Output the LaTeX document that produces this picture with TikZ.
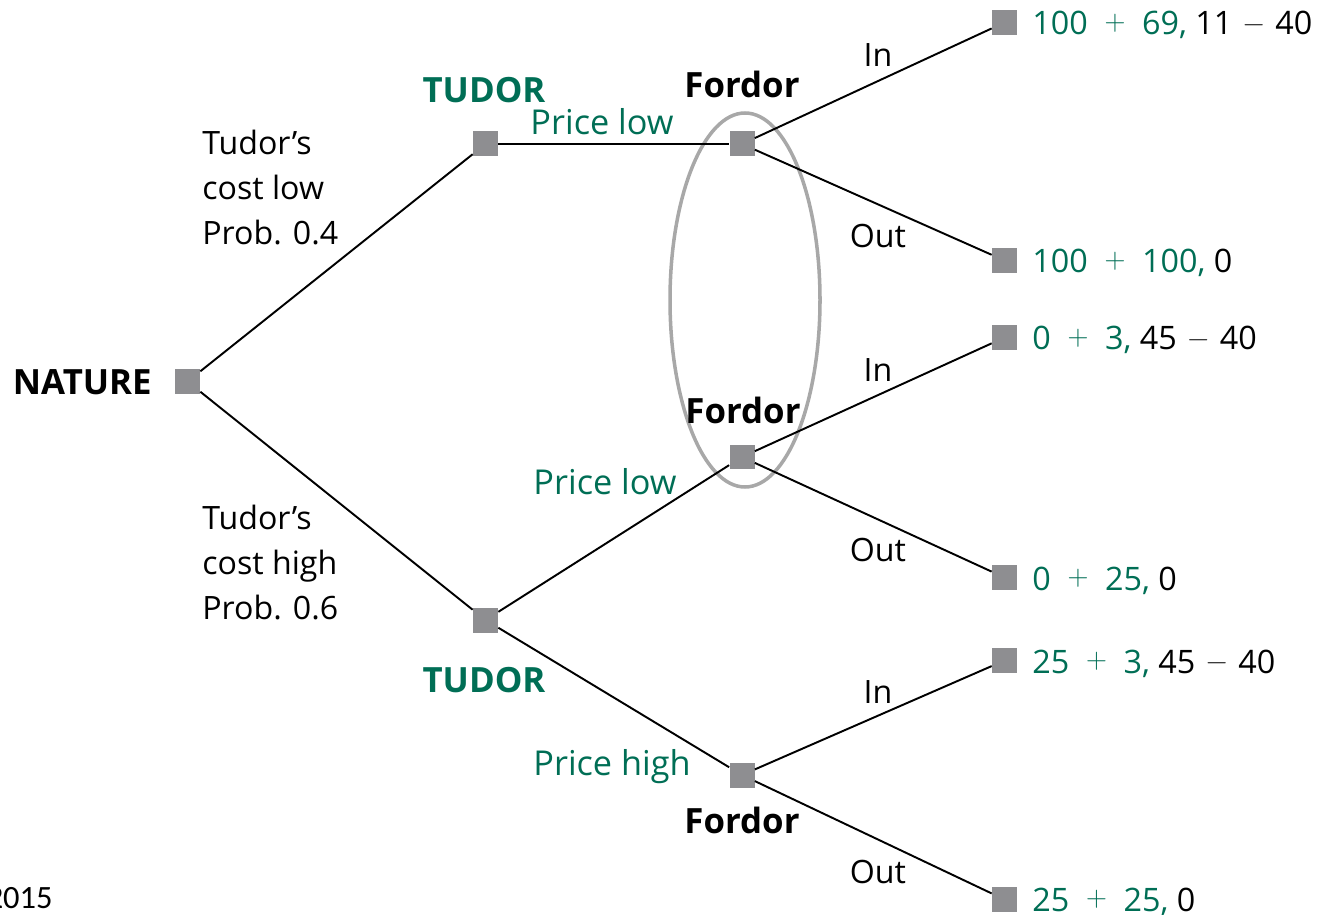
\documentclass[tikz,border=0pt]{standalone}
\usepackage{fontspec}
\setmainfont{Open Sans}
\newfontfamily\yearfont{Carlito}
\newfontfamily\lmfont{Latin Modern Roman}
\definecolor{tgreen}{RGB}{0,110,85}
\definecolor{sqgray}{RGB}{142,142,145}
\definecolor{ellgray}{RGB}{168,168,168}
\newcommand{\gplus}{\hspace{9.5pt}\raisebox{2.6pt}{\lmfont\fontsize{16.5}{17}\selectfont +}\hspace{9.5pt}}
\newcommand{\gminus}{\hspace{6.3pt}\raisebox{1.6pt}{\lmfont\fontsize{16.5}{17}\selectfont −}\hspace{6.3pt}}
\begin{document}
\begin{tikzpicture}[x=0.02cm,y=-0.02cm,
  sq/.style={draw=none,fill=sqgray,minimum size=0.5cm,inner sep=0pt},
  edge/.style={line width=1.1pt,black},
  txt/.style={font=\fontsize{18.3}{22}\selectfont,inner sep=0pt,anchor=base},
  bold/.style={txt,font=\fontsize{19.8}{24}\selectfont\bfseries},
  gtxt/.style={txt,text=tgreen,font=\fontsize{19.5}{23}\selectfont},
  ltxt/.style={txt,anchor=base west},
  pay/.style={txt,anchor=base west,font=\fontsize{18.4}{22}\selectfont}
]
\useasboundingbox (0,0) rectangle (1325,915);
% nodes
\node[sq] (N) at (187.5,381.5) {};
\node[sq] (T1) at (485.5,144) {};
\node[sq] (T2) at (485.5,620) {};
\node[sq] (F1) at (742,144) {};
\node[sq] (F2) at (742,457) {};
\node[sq] (F3) at (742,775) {};
\node[sq] (P1) at (1004.5,22.5) {};
\node[sq] (P2) at (1004.5,260.5) {};
\node[sq] (P3) at (1004.5,337.5) {};
\node[sq] (P4) at (1004.5,577.5) {};
\node[sq] (P5) at (1004.5,660.5) {};
\node[sq] (P6) at (1004.5,899.5) {};
% information set
\draw[ellgray,line width=2pt] (745,300) ellipse [x radius=75, y radius=187];
% edges
\draw[edge] (N) -- (T1);
\draw[edge] (N) -- (T2);
\draw[edge] (T1) -- (F1);
\draw[edge] (T2) -- (F2);
\draw[edge] (T2) -- (F3);
\draw[edge] (F1) -- (P1);
\draw[edge] (F1) -- (P2);
\draw[edge] (F2) -- (P3);
\draw[edge] (F2) -- (P4);
\draw[edge] (F3) -- (P5);
\draw[edge] (F3) -- (P6);
% labels
\node[bold,anchor=base east] (lN) at (152,395) {NATURE};
\node[bold,text=tgreen] (lT1) at (484,103) {TUDOR};
\node[bold,text=tgreen] (lT2) at (484,692) {TUDOR};
\node[bold] (lF1) at (742,98) {Fordor};
\node[bold] (lF2) at (743,423) {Fordor};
\node[bold] (lF3) at (742,833) {Fordor};
\node[gtxt] (pl1) at (602,135) {Price low};
\node[gtxt] (pl2) at (605,494) {Price low};
\node[gtxt] (ph) at (612,775) {Price high};
\node[txt] (in1) at (878,67) {In};
\node[txt] (in2) at (878,381) {In};
\node[txt] (in3) at (878,703) {In};
\node[txt] (out1) at (878,248) {Out};
\node[txt] (out2) at (878,561) {Out};
\node[txt] (out3) at (878,883) {Out};
\node[ltxt] (c1a) at (202,155) {Tudor’s};
\node[ltxt] (c1b) at (202,200) {cost low};
\node[ltxt] (c1c) at (202,245) {Prob. 0.4};
\node[ltxt] (c2a) at (202,529) {Tudor’s};
\node[ltxt] (c2b) at (202,574) {cost high};
\node[ltxt] (c2c) at (202,619) {Prob. 0.6};
\node[pay] (v1) at (1032,35) {\textcolor{tgreen}{100\gplus69,} 11\gminus40};
\node[pay] (v2) at (1032,273) {\textcolor{tgreen}{100\gplus100,} 0};
\node[pay] (v3) at (1032,350) {\textcolor{tgreen}{0\gplus3,} 45\gminus40};
\node[pay] (v4) at (1032,590) {\textcolor{tgreen}{0\gplus25,} 0};
\node[pay] (v5) at (1032,673) {\textcolor{tgreen}{25\gplus3,} 45\gminus40};
\node[pay] (v6) at (1032,911) {\textcolor{tgreen}{25\gplus25,} 0};
\node[inner sep=0pt,anchor=base east,font=\yearfont\fontsize{18.5}{22}\selectfont] (yr) at (53,908) {2015};
\end{tikzpicture}
\end{document}
